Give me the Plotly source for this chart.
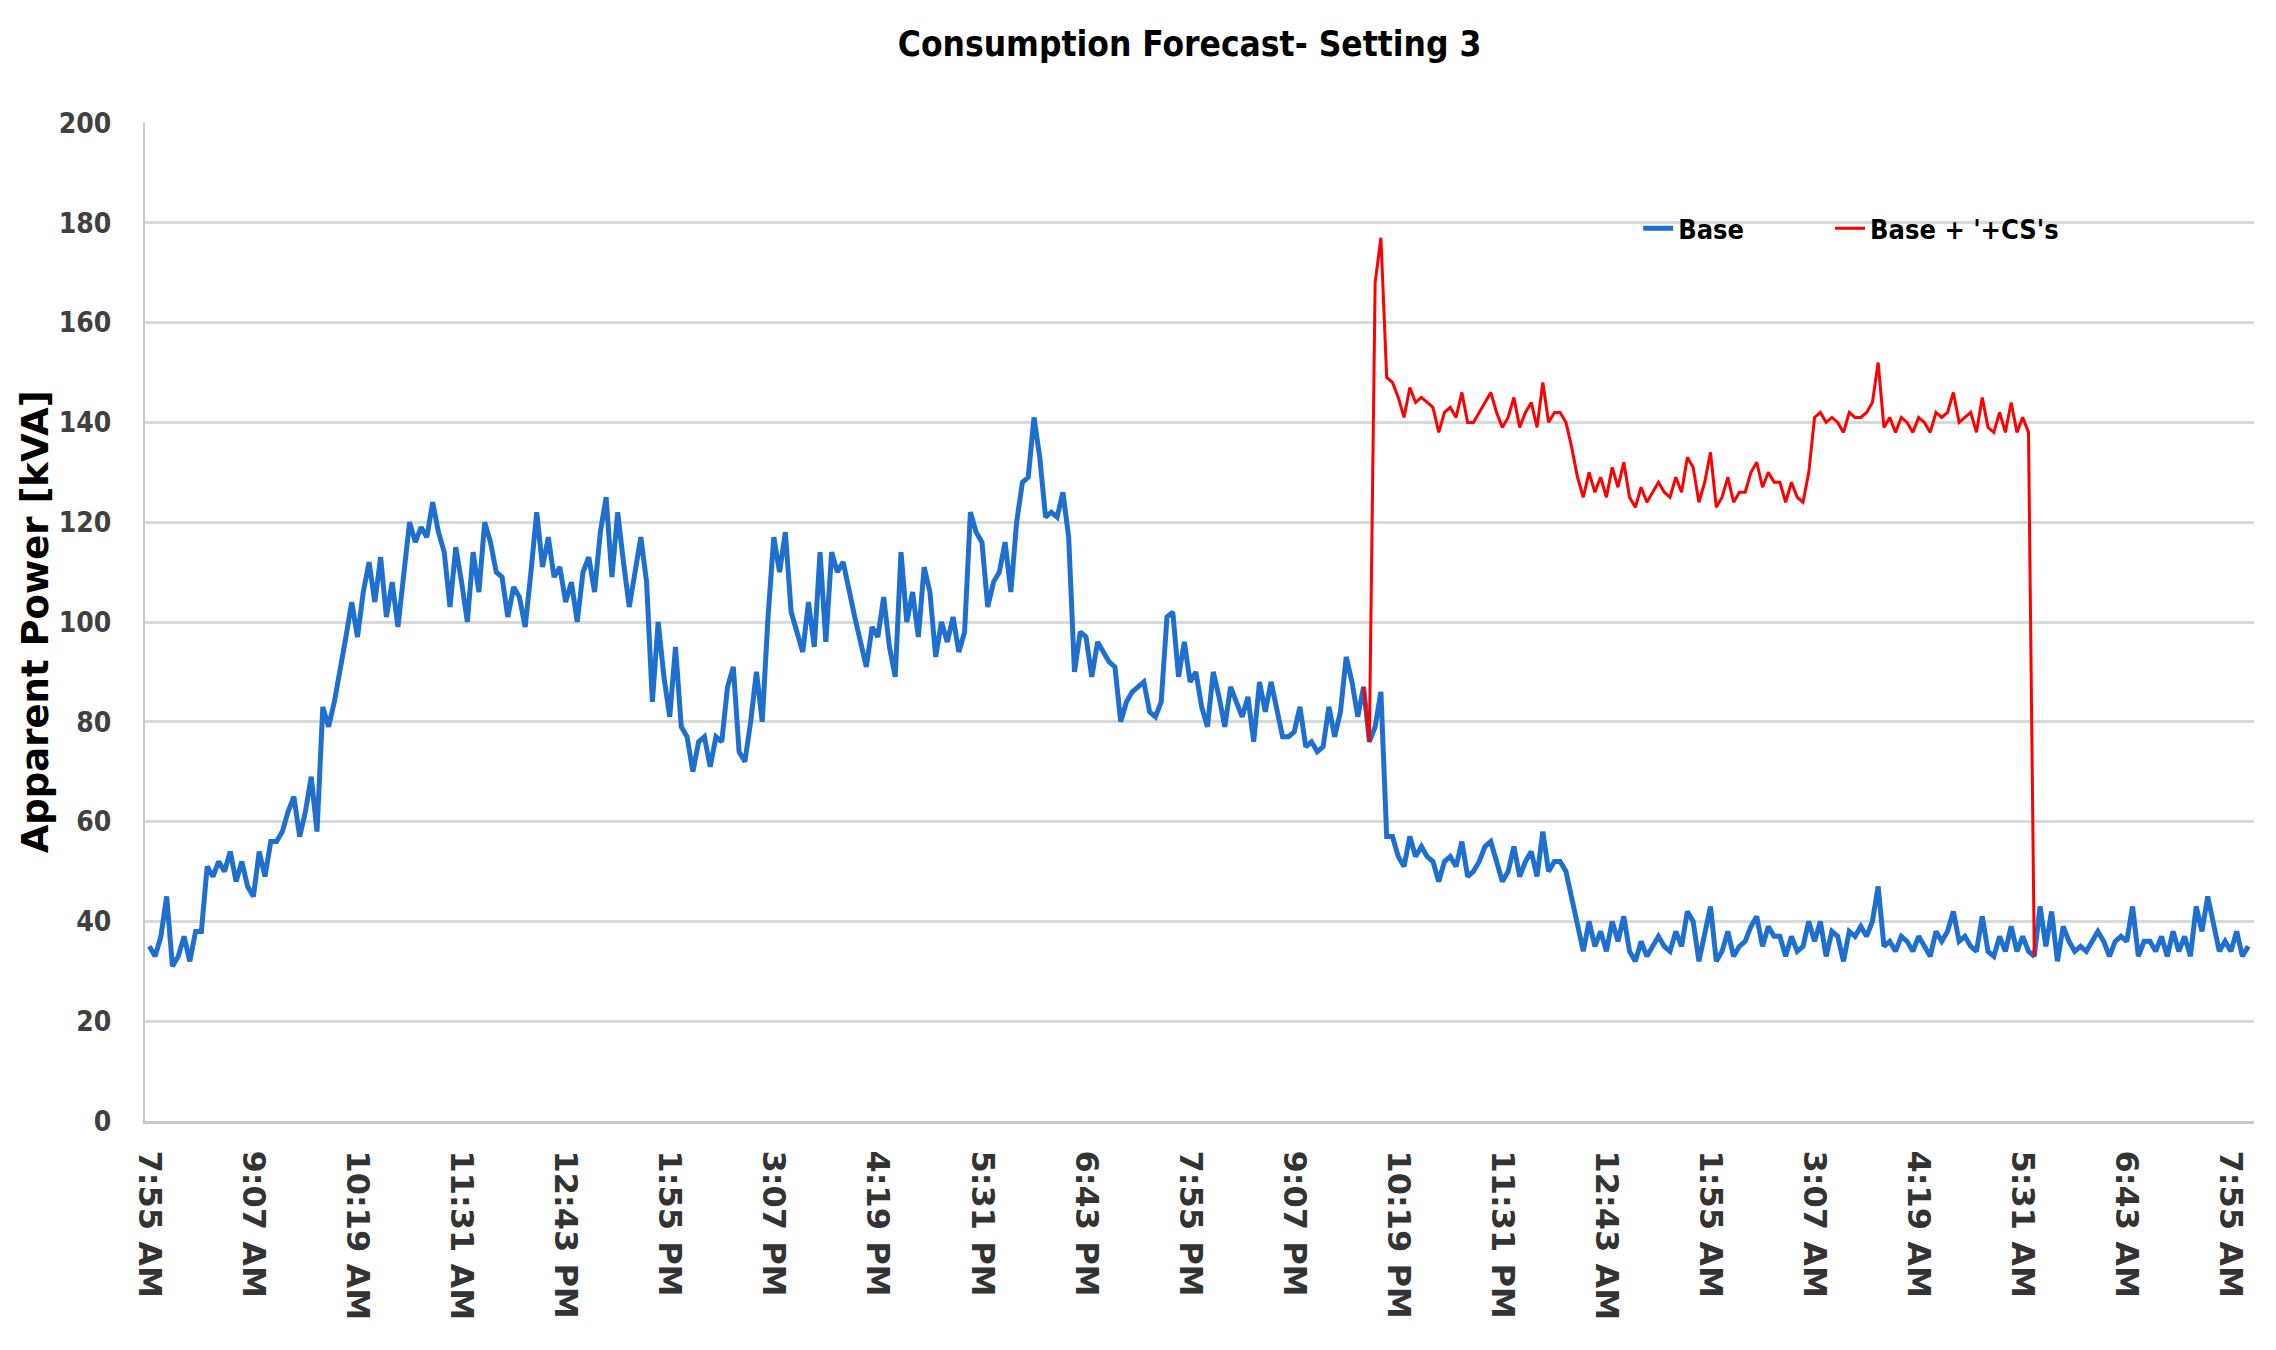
import datetime as dt
import plotly.graph_objects as go

# ---------------- data ----------------
START = dt.datetime(2021, 1, 1, 7, 55)
STEP_MIN = 4          # sampling interval of the series (minutes)
RED_START_MIN = 840   # first sample of the "Base + CS" series

tick_labels = ["7:55 AM", "9:07 AM", "10:19 AM", "11:31 AM", "12:43 PM", "1:55 PM",
               "3:07 PM", "4:19 PM", "5:31 PM", "6:43 PM", "7:55 PM", "9:07 PM",
               "10:19 PM", "11:31 PM", "12:43 AM", "1:55 AM", "3:07 AM", "4:19 AM",
               "5:31 AM", "6:43 AM", "7:55 AM"]
TICK_EVERY_MIN = 72

base = [
    35, 33, 37, 45, 31, 33, 37, 32, 38, 38, 51, 49, 52, 50, 54, 48, 52, 47,
    45, 54, 49, 56, 56, 58, 62, 65, 57, 62, 69, 58, 83, 79, 84, 90, 97, 104,
    97, 106, 112, 104, 113, 101, 108, 99, 110, 120, 116, 119, 117, 124, 118, 114, 103, 115,
    108, 100, 114, 106, 120, 116, 110, 109, 101, 107, 105, 99, 110, 122, 111, 117, 109, 111,
    104, 108, 100, 110, 113, 106, 118, 125, 109, 122, 112, 103, 110, 117, 108, 84, 100, 89,
    81, 95, 79, 77, 70, 76, 77, 71, 77, 76, 87, 91, 74, 72, 80, 90, 80, 101,
    117, 110, 118, 102, 98, 94, 104, 95, 114, 96, 114, 110, 112, 106, 101, 96, 91, 99,
    97, 105, 95, 89, 114, 100, 106, 97, 111, 106, 93, 100, 96, 101, 94, 98, 122, 118,
    116, 103, 108, 110, 116, 106, 120, 128, 129, 141, 133, 121, 122, 121, 126, 117, 90, 98,
    97, 89, 96, 94, 92, 91, 80, 84, 86, 87, 88, 82, 81, 84, 101, 102, 89, 96,
    88, 90, 83, 79, 90, 85, 79, 87, 84, 81, 85, 76, 88, 82, 88, 83, 77, 77,
    78, 83, 75, 76, 74, 75, 83, 77, 82, 93, 88, 81, 87, 76, 79, 86, 57, 57,
    53, 51, 57, 53, 55, 53, 52, 48, 52, 53, 51, 56, 49, 50, 52, 55, 56, 52,
    48, 50, 55, 49, 52, 54, 49, 58, 50, 52, 52, 50, 45, 39, 34, 40, 35, 38,
    34, 40, 36, 41, 34, 32, 36, 33, 35, 37, 35, 34, 38, 35, 42, 40, 32, 37,
    43, 32, 34, 38, 33, 35, 36, 39, 41, 35, 39, 37, 37, 33, 37, 34, 35, 40,
    36, 40, 33, 38, 37, 32, 38, 37, 39, 37, 40, 47, 35, 36, 34, 37, 36, 34,
    37, 35, 33, 38, 36, 38, 42, 36, 37, 35, 34, 41, 34, 33, 37, 34, 39, 34,
    37, 34, 33, 43, 35, 42, 32, 39, 36, 34, 35, 34, 36, 38, 36, 33, 36, 37,
    36, 43, 33, 36, 36, 34, 37, 33, 38, 34, 37, 33, 43, 38, 45, 39, 34, 36,
    34, 38, 33, 35,
]

base_plus_cs = [
    87, 76, 168, 177, 149, 148, 145, 141, 147, 144, 145, 144, 143, 138, 142, 143, 141, 146,
    140, 140, 142, 144, 146, 142, 139, 141, 145, 139, 142, 144, 139, 148, 140, 142, 142, 140,
    135, 129, 125, 130, 126, 129, 125, 131, 127, 132, 125, 123, 127, 124, 126, 128, 126, 125,
    129, 126, 133, 131, 124, 128, 134, 123, 125, 129, 124, 126, 126, 130, 132, 127, 130, 128,
    128, 124, 128, 125, 124, 130, 141, 142, 140, 141, 140, 138, 142, 141, 141, 142, 144, 152,
    139, 141, 138, 141, 140, 138, 141, 140, 138, 142, 141, 142, 146, 140, 141, 142, 138, 145,
    139, 138, 142, 138, 144, 138, 141, 138, 33,
]

# ---------------- build ----------------
times = [START + dt.timedelta(minutes=STEP_MIN * i) for i in range(len(base))]
red_times = [START + dt.timedelta(minutes=RED_START_MIN + STEP_MIN * i)
             for i in range(len(base_plus_cs))]
tick_vals = [START + dt.timedelta(minutes=TICK_EVERY_MIN * k) for k in range(len(tick_labels))]

fig = go.Figure()
fig.add_trace(go.Scatter(x=times, y=base, mode="lines", name="Base", legend="legend",
                         line=dict(color="#1F6FCF", width=5)))
fig.add_trace(go.Scatter(x=red_times, y=base_plus_cs, mode="lines", name="Base + '+CS's",
                         legend="legend2", line=dict(color="#FF0000", width=3)))

narrow = "Liberation Sans Narrow, DejaVu Sans Condensed, Arial Narrow, sans-serif"
legend_font = dict(family=narrow, size=27, color="black", weight="bold")

fig.update_layout(
    width=2268, height=1342,
    paper_bgcolor="white", plot_bgcolor="white",
    margin=dict(l=137, r=22, t=115, b=229),
    title=dict(text="Consumption Forecast- Setting 3", x=0.521, xanchor="center",
               y=0.9735, yanchor="middle",
               font=dict(family=narrow, size=35, color="black", weight="bold")),
    showlegend=True,
    legend=dict(orientation="h", x=0.708, xanchor="left", y=0.894, yanchor="middle",
                bgcolor="rgba(0,0,0,0)", font=legend_font),
    legend2=dict(orientation="h", x=0.799, xanchor="left", y=0.894, yanchor="middle",
                 bgcolor="rgba(0,0,0,0)", font=legend_font),
    xaxis=dict(
        type="date",
        range=[START - dt.timedelta(minutes=3), START + dt.timedelta(minutes=1456)],
        tickmode="array", tickvals=tick_vals, ticktext=tick_labels,
        tickangle=90, ticks="", ticklabelstandoff=20,
        tickfont=dict(family="DejaVu Sans", size=32, color="#333333", weight="bold"),
        showgrid=False, zeroline=False,
        showline=True, linecolor="#c8c8c8", linewidth=3,
    ),
    yaxis=dict(
        range=[0, 200], tickmode="array", tickvals=list(range(0, 201, 20)),
        ticks="", ticklabelstandoff=26,
        tickfont=dict(family="DejaVu Sans Condensed", size=28, color="#404040", weight="bold"),
        showgrid=True, gridcolor="#d9d9d9", gridwidth=2.5,
        zeroline=False, showline=True, linecolor="#c8c8c8", linewidth=2,
    ),
    annotations=[dict(text="Apparent Power [kVA]", xref="paper", yref="paper",
                      x=-0.052, y=0.5, xanchor="center", yanchor="middle",
                      textangle=-90, showarrow=False,
                      font=dict(family="DejaVu Sans", size=37, color="black", weight="bold"))],
)

fig.write_html("out.html")
